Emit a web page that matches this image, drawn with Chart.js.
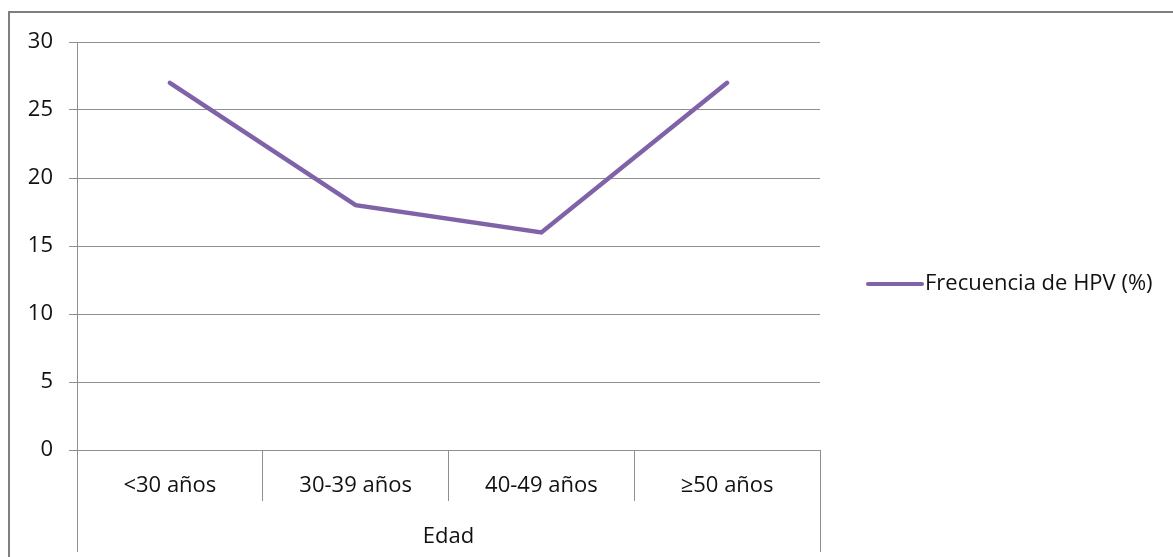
<!DOCTYPE html>
<html>
<head>
<meta charset="utf-8">
<script src="https://cdn.jsdelivr.net/npm/chart.js@4.4.0/dist/chart.umd.min.js"></script>
<style>
  body { margin: 0; background: #fff; }
</style>
</head>
<body>
<canvas id="chart" width="1173" height="557"></canvas>
<script>
const categories = ['<30 años', '30-39 años', '40-49 años', '≥50 años'];
const hpvFrequency = [27, 18, 16, 27];
const seriesLabel = 'Frecuencia de HPV (%)';
const groupLabel = 'Edad';
const yMin = 0;
const yMax = 30;
const yStep = 5;

const lineColor = '#7f62a8';
const gridColor = '#8e8e8e';
const textColor = '#111111';
const fontFamily = "'Open Sans', sans-serif";
const fontSize = 22;

// frame, outer lines of the category group and the legend on the right
const extras = {
    id: 'extras',
    afterDraw(chart) {
        const ctx = chart.ctx;
        const area = chart.chartArea;
        ctx.save();

        ctx.strokeStyle = '#7f7f7f';
        ctx.lineWidth = 2;
        ctx.beginPath();
        ctx.moveTo(9, chart.height);
        ctx.lineTo(9, 12);
        ctx.lineTo(chart.width, 12);
        ctx.stroke();

        ctx.strokeStyle = gridColor;
        ctx.lineWidth = 1;
        ctx.beginPath();
        ctx.moveTo(Math.round(area.left - 0.5) + 0.5, area.bottom);
        ctx.lineTo(Math.round(area.left - 0.5) + 0.5, 552);
        ctx.moveTo(Math.round(area.right - 0.5) + 0.5, area.bottom);
        ctx.lineTo(Math.round(area.right - 0.5) + 0.5, 552);
        ctx.stroke();

        const ds = chart.data.datasets[0];
        const ly = 284;
        const lx = area.right + 48;
        ctx.strokeStyle = ds.borderColor;
        ctx.lineWidth = 4;
        ctx.lineCap = 'round';
        ctx.beginPath();
        ctx.moveTo(lx, ly);
        ctx.lineTo(lx + 54, ly);
        ctx.stroke();

        ctx.fillStyle = textColor;
        ctx.font = fontSize + 'px ' + fontFamily;
        ctx.textBaseline = 'middle';
        ctx.textAlign = 'left';
        ctx.fillText(ds.label, lx + 57, ly);
        ctx.restore();
    }
};

new Chart(document.getElementById('chart'), {
    type: 'line',
    data: {
        labels: categories,
        datasets: [{
            label: seriesLabel,
            data: hpvFrequency,
            borderColor: lineColor,
            backgroundColor: lineColor,
            borderWidth: 4.5,
            borderCapStyle: 'round',
            pointRadius: 0,
            tension: 0
        }]
    },
    options: {
        responsive: false,
        animation: false,
        devicePixelRatio: 1,
        layout: { padding: { top: 42, right: 353, bottom: 0, left: 0 } },
        plugins: {
            legend: { display: false },
            tooltip: { enabled: false }
        },
        scales: {
            x: {
                offset: true,
                grid: {
                    offset: true,
                    drawOnChartArea: false,
                    color: gridColor,
                    tickLength: 51
                },
                border: { color: gridColor },
                ticks: {
                    color: textColor,
                    font: { family: fontFamily, size: fontSize },
                    padding: -28,
                    maxRotation: 0
                },
                title: {
                    display: true,
                    text: groupLabel,
                    color: textColor,
                    font: { family: fontFamily, size: fontSize },
                    padding: 7
                },
                afterFit(scale) { scale.height = 107; }
            },
            y: {
                min: yMin,
                max: yMax,
                grid: { color: gridColor, tickLength: 8 },
                border: { color: gridColor },
                ticks: {
                    stepSize: yStep,
                    color: textColor,
                    font: { family: fontFamily, size: fontSize },
                    padding: 16
                },
                afterFit(scale) { scale.width = 77; }
            }
        }
    },
    plugins: [extras]
});
</script>
</body>
</html>
